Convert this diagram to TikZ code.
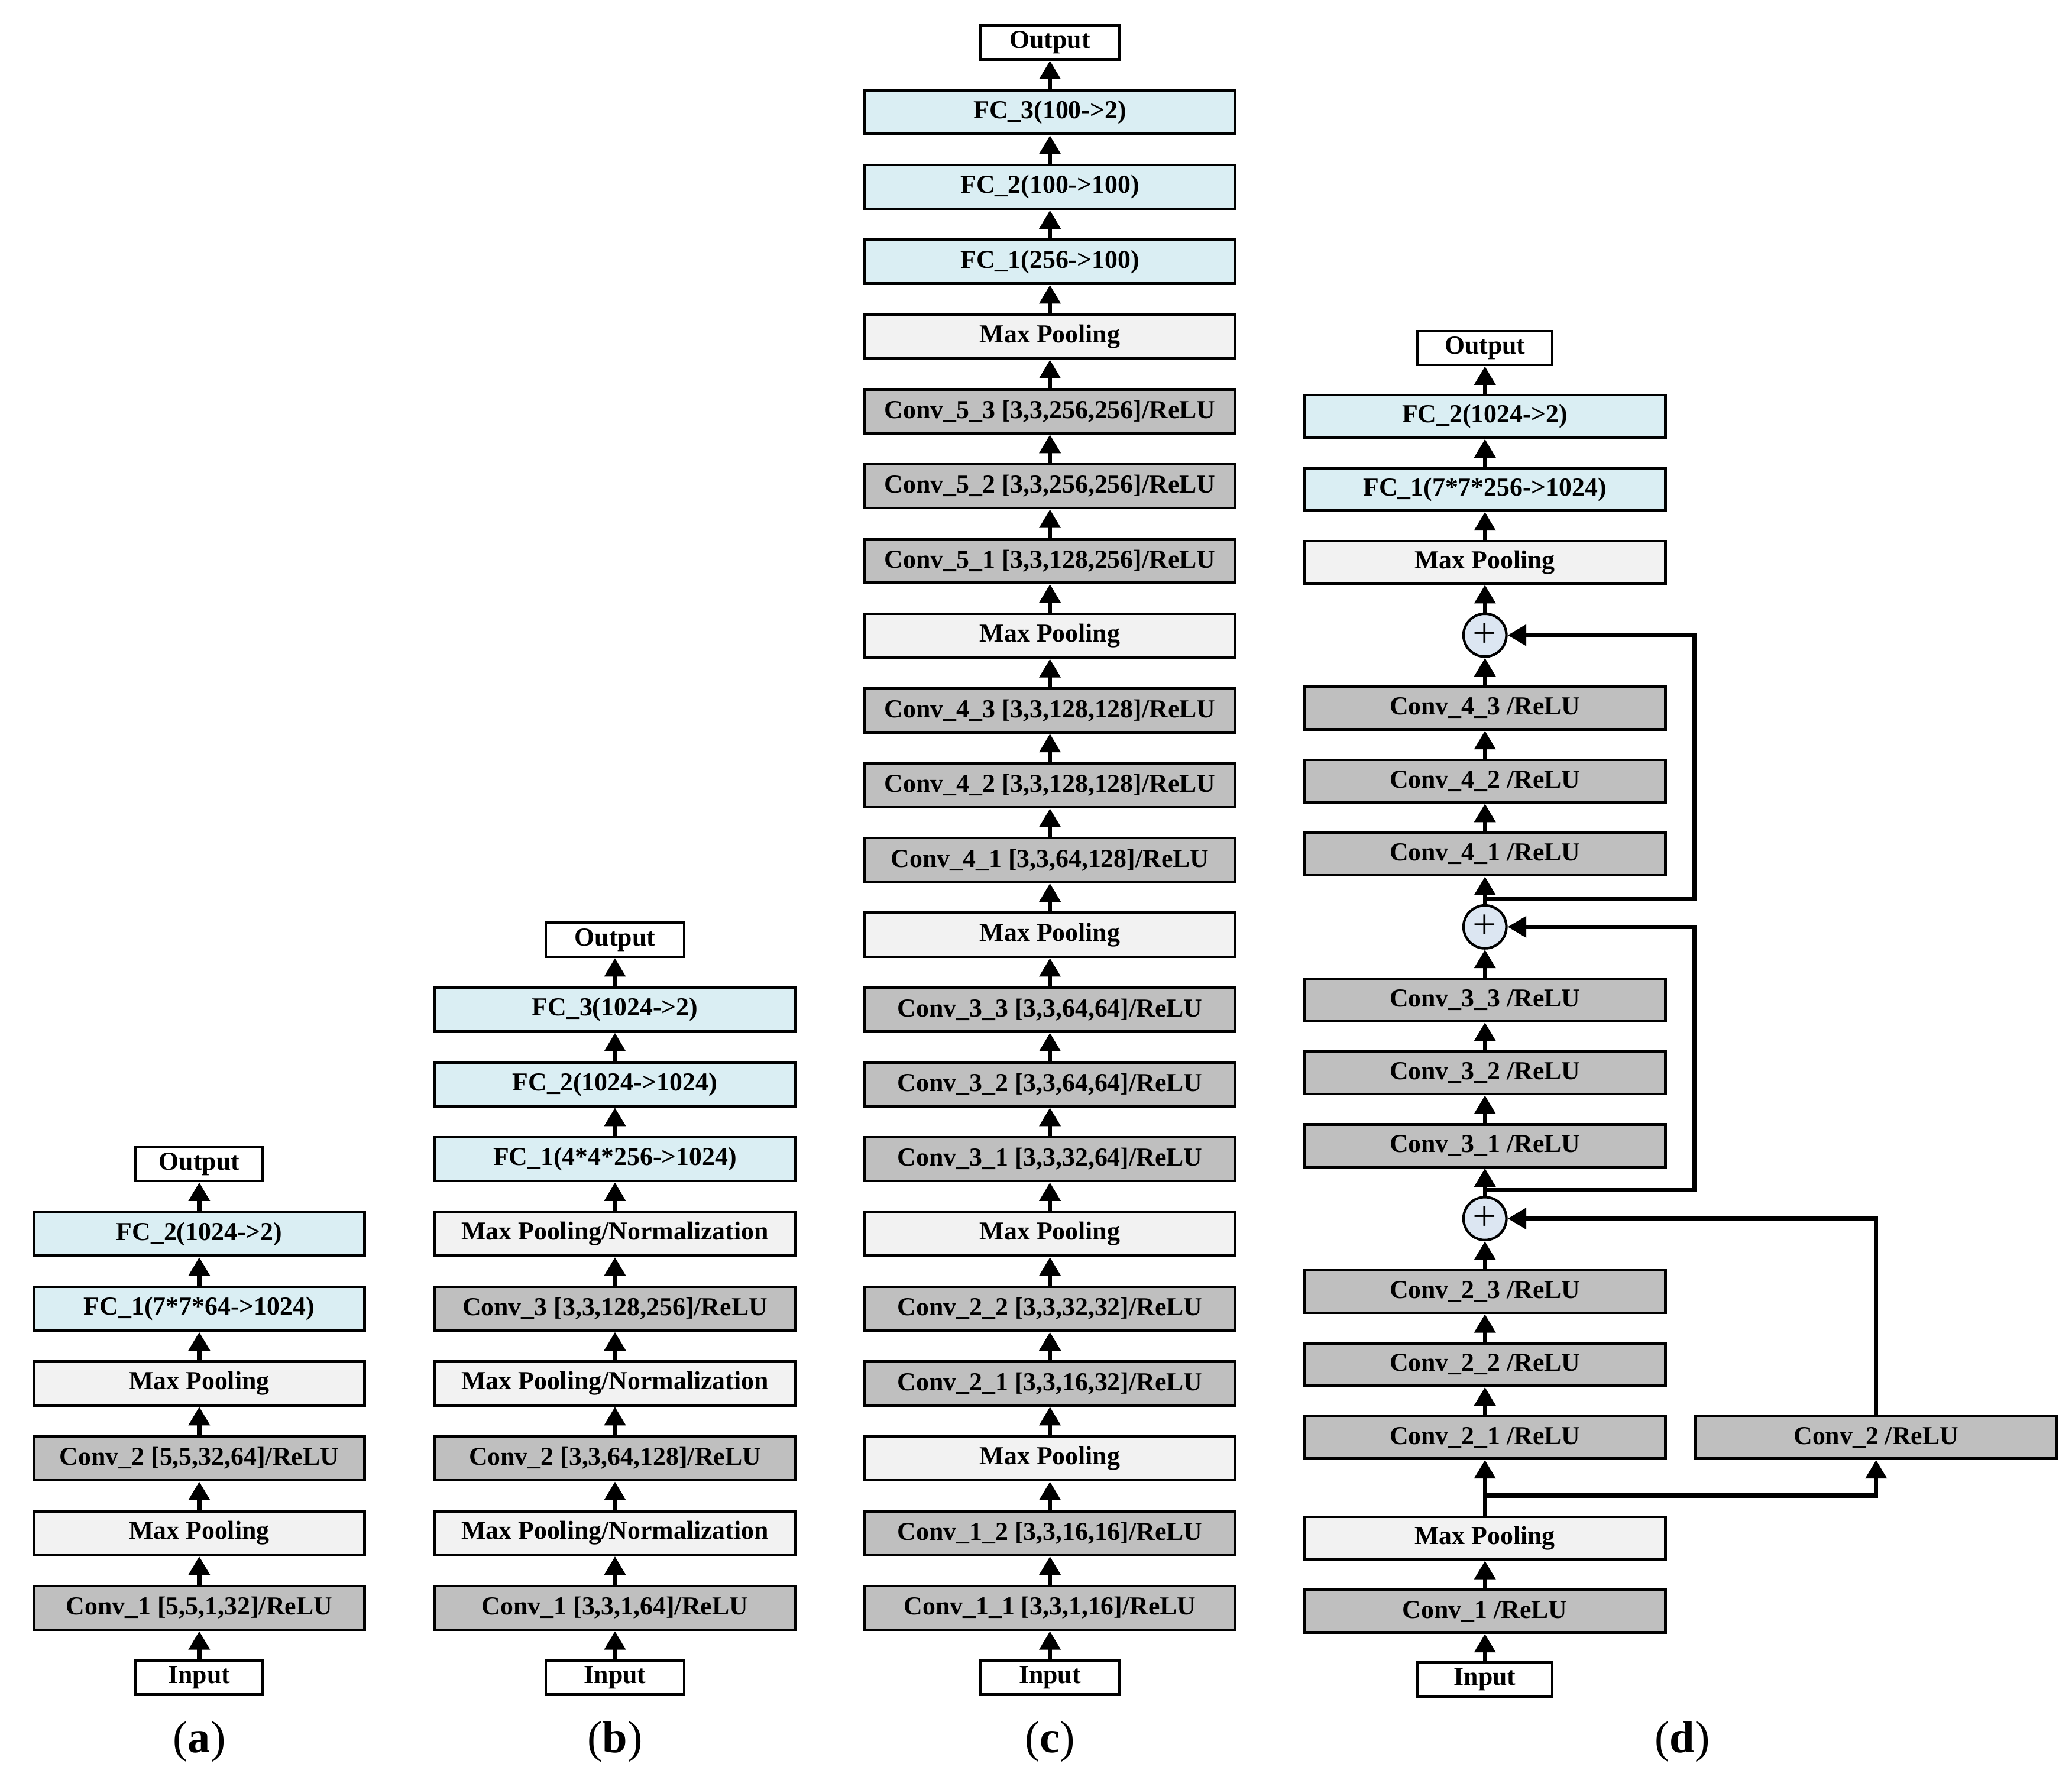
\documentclass[tikz,border=0pt]{standalone}
\usepackage{fontspec}
\setmainfont{Liberation Serif}
\usetikzlibrary{arrows.meta,positioning}
\definecolor{convgray}{HTML}{BFBFBF}
\definecolor{poolgray}{HTML}{F2F2F2}
\definecolor{fcblue}{HTML}{DAEEF3}
\definecolor{plusblue}{HTML}{DCE6F2}
\begin{document}
\begin{tikzpicture}[x=1pt,y=-1pt,
  node distance=21.3pt,
  blk/.style={draw=black, line width=2pt, minimum height=33pt, inner sep=0pt,
    font=\fontsize{19.5}{20}\selectfont\bfseries},
  conv/.style={blk, fill=convgray},
  pool/.style={blk, fill=poolgray},
  fc/.style={blk, fill=fcblue},
  io/.style={blk, fill=white, minimum height=25.5pt},
  arr/.style={line width=3.3pt, -{Triangle[length=14pt,width=15.5pt]}},
  sum/.style={circle, draw=black, line width=1.9pt, fill=plusblue, minimum size=32.3pt,
    inner sep=0pt, font=\fontsize{32}{32}\selectfont},
  lab/.style={font=\fontsize{34}{34}\selectfont}]
\useasboundingbox (0,0) rectangle (1560,1340);

% ---------------- panel (a)
\tikzset{wa/.style={minimum width=249pt}, ioa/.style={io, minimum width=96pt}}
\node[ioa] (ain) at (150,1263) {Input};
\node[conv, wa, above=of ain] (ac1) {Conv\_1 [5,5,1,32]/ReLU};
\node[pool, wa, above=of ac1] (amp1) {Max Pooling};
\node[conv, wa, above=of amp1] (ac2) {Conv\_2 [5,5,32,64]/ReLU};
\node[pool, wa, above=of ac2] (amp2) {Max Pooling};
\node[fc, wa, above=of amp2] (afc1) {FC\_1(7*7*64->1024)};
\node[fc, wa, above=of afc1] (afc2) {FC\_2(1024->2)};
\node[ioa, above=of afc2] (aout) {Output};
\foreach \p/\q in {ain/ac1, ac1/amp1, amp1/ac2, ac2/amp2, amp2/afc1, afc1/afc2, afc2/aout}
  \draw[arr] (\p.north) -- (\q.south);
\node[lab] (la) at (150,1311) {(\textbf{a})};

% ---------------- panel (b)
\tikzset{wb/.style={minimum width=272pt}, iob/.style={io, minimum width=104pt}}
\node[iob] (bin) at (463,1263) {Input};
\node[conv, wb, above=of bin] (bc1) {Conv\_1 [3,3,1,64]/ReLU};
\node[pool, wb, above=of bc1] (bmp1) {Max Pooling/Normalization};
\node[conv, wb, above=of bmp1] (bc2) {Conv\_2 [3,3,64,128]/ReLU};
\node[pool, wb, above=of bc2] (bmp2) {Max Pooling/Normalization};
\node[conv, wb, above=of bmp2] (bc3) {Conv\_3 [3,3,128,256]/ReLU};
\node[pool, wb, above=of bc3] (bmp3) {Max Pooling/Normalization};
\node[fc, wb, above=of bmp3] (bfc1) {FC\_1(4*4*256->1024)};
\node[fc, wb, above=of bfc1] (bfc2) {FC\_2(1024->1024)};
\node[fc, wb, above=of bfc2] (bfc3) {FC\_3(1024->2)};
\node[iob, above=of bfc3] (bout) {Output};
\foreach \p/\q in {bin/bc1, bc1/bmp1, bmp1/bc2, bc2/bmp2, bmp2/bc3, bc3/bmp3, bmp3/bfc1, bfc1/bfc2, bfc2/bfc3, bfc3/bout}
  \draw[arr] (\p.north) -- (\q.south);
\node[lab] (lb) at (463,1311) {(\textbf{b})};

% ---------------- panel (c)
\tikzset{wc/.style={minimum width=279pt}, ioc/.style={io, minimum width=105pt}}
\node[ioc] (cin) at (790.5,1263) {Input};
\node[conv, wc, above=of cin] (c11) {Conv\_1\_1 [3,3,1,16]/ReLU};
\node[conv, wc, above=of c11] (c12) {Conv\_1\_2 [3,3,16,16]/ReLU};
\node[pool, wc, above=of c12] (cmp1) {Max Pooling};
\node[conv, wc, above=of cmp1] (c21) {Conv\_2\_1 [3,3,16,32]/ReLU};
\node[conv, wc, above=of c21] (c22) {Conv\_2\_2 [3,3,32,32]/ReLU};
\node[pool, wc, above=of c22] (cmp2) {Max Pooling};
\node[conv, wc, above=of cmp2] (c31) {Conv\_3\_1 [3,3,32,64]/ReLU};
\node[conv, wc, above=of c31] (c32) {Conv\_3\_2 [3,3,64,64]/ReLU};
\node[conv, wc, above=of c32] (c33) {Conv\_3\_3 [3,3,64,64]/ReLU};
\node[pool, wc, above=of c33] (cmp3) {Max Pooling};
\node[conv, wc, above=of cmp3] (c41) {Conv\_4\_1 [3,3,64,128]/ReLU};
\node[conv, wc, above=of c41] (c42) {Conv\_4\_2 [3,3,128,128]/ReLU};
\node[conv, wc, above=of c42] (c43) {Conv\_4\_3 [3,3,128,128]/ReLU};
\node[pool, wc, above=of c43] (cmp4) {Max Pooling};
\node[conv, wc, above=of cmp4] (c51) {Conv\_5\_1 [3,3,128,256]/ReLU};
\node[conv, wc, above=of c51] (c52) {Conv\_5\_2 [3,3,256,256]/ReLU};
\node[conv, wc, above=of c52] (c53) {Conv\_5\_3 [3,3,256,256]/ReLU};
\node[pool, wc, above=of c53] (cmp5) {Max Pooling};
\node[fc, wc, above=of cmp5] (cfc1) {FC\_1(256->100)};
\node[fc, wc, above=of cfc1] (cfc2) {FC\_2(100->100)};
\node[fc, wc, above=of cfc2] (cfc3) {FC\_3(100->2)};
\node[ioc, above=of cfc3] (cout) {Output};
\foreach \p/\q in {cin/c11, c11/c12, c12/cmp1, cmp1/c21, c21/c22, c22/cmp2, cmp2/c31, c31/c32, c32/c33, c33/cmp3, cmp3/c41, c41/c42, c42/c43, c43/cmp4, cmp4/c51, c51/c52, c52/c53, c53/cmp5, cmp5/cfc1, cfc1/cfc2, cfc2/cfc3, cfc3/cout}
  \draw[arr] (\p.north) -- (\q.south);
\node[lab] (lc) at (790.5,1311) {(\textbf{c})};

% ---------------- panel (d)
\tikzset{wd/.style={minimum width=272pt, minimum height=32pt}, iod/.style={io, minimum width=101.5pt}}
\node[iod] (din) at (1118,1264.5) {Input};
\node[conv, wd] (dc1) at (1118,1213) {Conv\_1 /ReLU};
\node[pool, wd] (dmp1) at (1118,1158) {Max Pooling};
\node[conv, wd] (dc21) at (1118,1082.1) {Conv\_2\_1 /ReLU};
\node[conv, wd] (dc2) at (1412.5,1082.1) {Conv\_2 /ReLU};
\node[conv, wd] (dc22) at (1118,1027.2) {Conv\_2\_2 /ReLU};
\node[conv, wd] (dc23) at (1118,972.3) {Conv\_2\_3 /ReLU};
\node[sum] (s1) at (1118,917.4) {+};
\node[conv, wd] (dc31) at (1118,862.5) {Conv\_3\_1 /ReLU};
\node[conv, wd] (dc32) at (1118,807.6) {Conv\_3\_2 /ReLU};
\node[conv, wd] (dc33) at (1118,752.7) {Conv\_3\_3 /ReLU};
\node[sum] (s2) at (1118,697.8) {+};
\node[conv, wd] (dc41) at (1118,642.9) {Conv\_4\_1 /ReLU};
\node[conv, wd] (dc42) at (1118,588) {Conv\_4\_2 /ReLU};
\node[conv, wd] (dc43) at (1118,533.1) {Conv\_4\_3 /ReLU};
\node[sum] (s3) at (1118,478.2) {+};
\node[pool, wd] (dmp2) at (1118,423.3) {Max Pooling};
\node[fc, wd] (dfc1) at (1118,368.4) {FC\_1(7*7*256->1024)};
\node[fc, wd] (dfc2) at (1118,313.5) {FC\_2(1024->2)};
\node[iod] (dout) at (1118,262) {Output};
\foreach \p/\q in {din/dc1, dc1/dmp1, dmp1/dc21, dc21/dc22, dc22/dc23, dc23/s1, s1/dc31, dc31/dc32, dc32/dc33, dc33/s2, s2/dc41, dc41/dc42, dc42/dc43, dc43/s3, s3/dmp2, dmp2/dfc1, dfc1/dfc2, dfc2/dout}
  \draw[arr] (\p.north) -- (\q.south);
% skip connections
\coordinate (j1) at (1118,1126);
\coordinate (j2) at (1118,896);
\coordinate (r2) at (1275.5,896);
\coordinate (j3) at (1118,676.5);
\coordinate (r3) at (1275.5,676.5);
\draw[arr] (j1) -| (dc2.south);
\draw[arr] (dc2.north) |- (s1.east);
\draw[arr] (j2) -- (r2) |- (s2.east);
\draw[arr] (j3) -- (r3) |- (s3.east);
\node[lab] (ld) at (1266.5,1311) {(\textbf{d})};
\end{tikzpicture}
\end{document}
